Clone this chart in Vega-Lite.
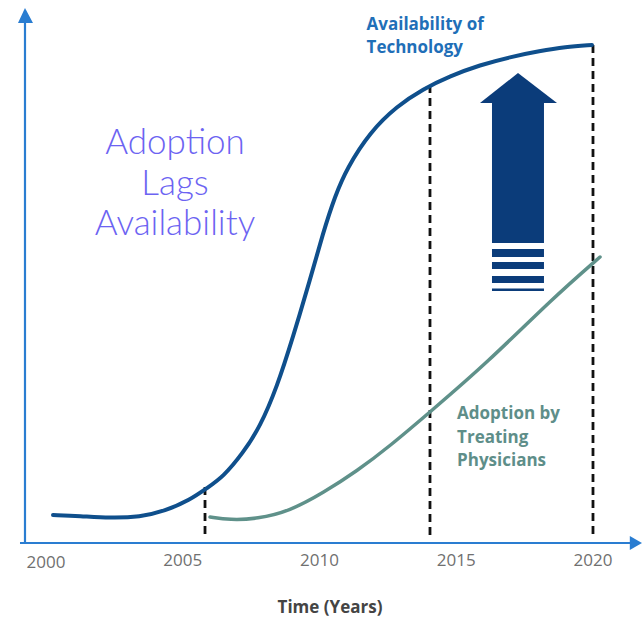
{
  "$schema": "https://vega.github.io/schema/vega-lite/v6.json",
  "width": 642,
  "height": 619,
  "autosize": {"type": "none"},
  "padding": 0,
  "background": "white",
  "config": {"view": {"stroke": null}},
  "datasets": {
    "avail": [
      {"year": 2000.256, "level": 5.6}, {"year": 2001.243, "level": 5.4}, {"year": 2002.34, "level": 5.0},
      {"year": 2003.437, "level": 5.2}, {"year": 2004.351, "level": 6.4}, {"year": 2005.265, "level": 8.6},
      {"year": 2005.887, "level": 11.0}, {"year": 2006.472, "level": 13.2}, {"year": 2007.203, "level": 18.0},
      {"year": 2007.824, "level": 23.2}, {"year": 2008.446, "level": 31.2}, {"year": 2009.031, "level": 41.2},
      {"year": 2009.653, "level": 52.6}, {"year": 2010.128, "level": 62.0}, {"year": 2010.567, "level": 69.4},
      {"year": 2011.006, "level": 75.0}, {"year": 2011.846, "level": 82.2}, {"year": 2012.834, "level": 87.4},
      {"year": 2013.784, "level": 90.8}, {"year": 2014.771, "level": 93.4}, {"year": 2015.868, "level": 95.6},
      {"year": 2016.965, "level": 97.2}, {"year": 2018.062, "level": 98.4}, {"year": 2018.976, "level": 99.2},
      {"year": 2019.963, "level": 99.6}
    ],
    "adopt": [
      {"year": 2005.996, "level": 5.2}, {"year": 2006.728, "level": 4.6}, {"year": 2007.715, "level": 4.8},
      {"year": 2008.921, "level": 6.4}, {"year": 2010.128, "level": 10.0}, {"year": 2011.371, "level": 14.4},
      {"year": 2012.578, "level": 19.4}, {"year": 2014.04, "level": 26.2}, {"year": 2016.124, "level": 36.0},
      {"year": 2018.537, "level": 49.0}, {"year": 2020.256, "level": 57.2}
    ],
    "dashes": [
      {"year": 2005.814, "top": 11.2, "bottom": 1.0},
      {"year": 2014.04, "top": 91.6, "bottom": 1.0},
      {"year": 2020.0, "top": 99.6, "bottom": 1.0}
    ],
    "blocks": [
      {"x1": 2016.307, "x2": 2018.208, "y1": 60.0, "y2": 88.2},
      {"x1": 2016.307, "x2": 2018.208, "y1": 57.2, "y2": 58.8},
      {"x1": 2016.307, "x2": 2018.208, "y1": 54.8, "y2": 56.2},
      {"x1": 2016.307, "x2": 2018.208, "y1": 52.0, "y2": 53.4},
      {"x1": 2016.307, "x2": 2018.208, "y1": 50.4, "y2": 50.9}
    ],
    "head": [
      {"year": 2015.868, "top": 88.0, "base": 88.0},
      {"year": 2017.258, "top": 94.0, "base": 88.0},
      {"year": 2018.684, "top": 88.0, "base": 88.0}
    ],
    "yhead": [
      {"year": 1998.976, "top": 104.0, "base": 104.0},
      {"year": 1999.232, "top": 107.0, "base": 104.0},
      {"year": 1999.525, "top": 104.0, "base": 104.0}
    ],
    "xhead": [
      {"year": 2021.346, "top": 1.4, "base": -1.4},
      {"year": 2021.792, "top": 0.0, "base": 0.0}
    ],
    "axes": [
      {"x1": 1999.232, "x2": 1999.232, "y1": 0.0, "y2": 104.5},
      {"x1": 1999.049, "x2": 2021.4, "y1": 0.0, "y2": 0.0}
    ],
    "ticks": [
      {"year": 2000, "level": -4.0, "label": "2000"},
      {"year": 2005, "level": -3.6, "label": "2005"},
      {"year": 2010, "level": -3.6, "label": "2010"},
      {"year": 2015, "level": -3.6, "label": "2015"},
      {"year": 2020, "level": -3.6, "label": "2020"}
    ]
  },
  "encoding": {},
  "layer": [
    {
      "data": {"name": "axes"},
      "mark": {"type": "rule", "color": "#2a7dd1", "strokeWidth": 2.2},
      "encoding": {
        "x": {"field": "x1", "type": "quantitative", "scale": {"domain": [1998.318, 2021.792], "nice": false, "zero": false}, "axis": null},
        "x2": {"field": "x2"},
        "y": {"field": "y1", "type": "quantitative", "scale": {"domain": [-15.2, 108.6], "nice": false, "zero": false}, "axis": null},
        "y2": {"field": "y2"}
      }
    },
    {
      "data": {"name": "yhead"},
      "mark": {"type": "area", "color": "#2a7dd1", "interpolate": "linear"},
      "encoding": {
        "x": {"field": "year", "type": "quantitative"},
        "y": {"field": "top", "type": "quantitative"},
        "y2": {"field": "base"}
      }
    },
    {
      "data": {"name": "xhead"},
      "mark": {"type": "area", "color": "#2a7dd1", "interpolate": "linear"},
      "encoding": {
        "x": {"field": "year", "type": "quantitative"},
        "y": {"field": "top", "type": "quantitative"},
        "y2": {"field": "base"}
      }
    },
    {
      "data": {"name": "dashes"},
      "mark": {"type": "rule", "color": "#111111", "strokeWidth": 2.8, "strokeDash": [8, 5]},
      "encoding": {
        "x": {"field": "year", "type": "quantitative"},
        "y": {"field": "top", "type": "quantitative"},
        "y2": {"field": "bottom"}
      }
    },
    {
      "data": {"name": "avail"},
      "mark": {"type": "line", "color": "#0f4f8c", "strokeWidth": 4, "interpolate": "basis", "strokeCap": "round"},
      "encoding": {
        "x": {"field": "year", "type": "quantitative"},
        "y": {"field": "level", "type": "quantitative"}
      }
    },
    {
      "data": {"name": "adopt"},
      "mark": {"type": "line", "color": "#5f918a", "strokeWidth": 3.5, "interpolate": "basis", "strokeCap": "round"},
      "encoding": {
        "x": {"field": "year", "type": "quantitative"},
        "y": {"field": "level", "type": "quantitative"}
      }
    },
    {
      "data": {"name": "blocks"},
      "mark": {"type": "rect", "color": "#0b3c7a"},
      "encoding": {
        "x": {"field": "x1", "type": "quantitative"},
        "x2": {"field": "x2"},
        "y": {"field": "y1", "type": "quantitative"},
        "y2": {"field": "y2"}
      }
    },
    {
      "data": {"name": "head"},
      "mark": {"type": "area", "color": "#0b3c7a", "interpolate": "linear"},
      "encoding": {
        "x": {"field": "year", "type": "quantitative"},
        "y": {"field": "top", "type": "quantitative"},
        "y2": {"field": "base"}
      }
    },
    {
      "data": {"name": "ticks"},
      "mark": {"type": "text", "font": "Open Sans", "fontSize": 17, "color": "#707070", "align": "center", "baseline": "middle"},
      "encoding": {
        "x": {"field": "year", "type": "quantitative"},
        "y": {"field": "level", "type": "quantitative"},
        "text": {"field": "label"}
      }
    },
    {
      "data": {"values": [{"year": 2010.384, "level": -13.0, "label": "Time (Years)"}]},
      "mark": {"type": "text", "font": "Open Sans", "fontSize": 17, "fontWeight": "bold", "color": "#444444", "align": "center", "baseline": "middle"},
      "encoding": {
        "x": {"field": "year", "type": "quantitative"},
        "y": {"field": "level", "type": "quantitative"},
        "text": {"field": "label"}
      }
    },
    {
      "data": {"values": [
        {"year": 2004.717, "level": 80.0, "label": "Adoption"},
        {"year": 2004.717, "level": 71.8, "label": "Lags"},
        {"year": 2004.717, "level": 63.8, "label": "Availability"}
      ]},
      "mark": {"type": "text", "font": "Lato", "fontSize": 35, "fontWeight": 300, "color": "#6c63f2", "align": "center", "baseline": "middle"},
      "encoding": {
        "x": {"field": "year", "type": "quantitative"},
        "y": {"field": "level", "type": "quantitative"},
        "text": {"field": "label"}
      }
    },
    {
      "data": {"values": [
        {"year": 2011.72, "level": 103.6, "label": "Availability of"},
        {"year": 2011.72, "level": 99.0, "label": "Technology"}
      ]},
      "mark": {"type": "text", "font": "Open Sans", "fontSize": 17, "fontWeight": "bold", "color": "#1f6fb8", "align": "left", "baseline": "middle"},
      "encoding": {
        "x": {"field": "year", "type": "quantitative"},
        "y": {"field": "level", "type": "quantitative"},
        "text": {"field": "label"}
      }
    },
    {
      "data": {"values": [
        {"year": 2015.03, "level": 25.8, "label": "Adoption by"},
        {"year": 2015.03, "level": 21.0, "label": "Treating"},
        {"year": 2015.03, "level": 16.4, "label": "Physicians"}
      ]},
      "mark": {"type": "text", "font": "Open Sans", "fontSize": 17, "fontWeight": "bold", "color": "#5e8e89", "align": "left", "baseline": "middle"},
      "encoding": {
        "x": {"field": "year", "type": "quantitative"},
        "y": {"field": "level", "type": "quantitative"},
        "text": {"field": "label"}
      }
    }
  ]
}
